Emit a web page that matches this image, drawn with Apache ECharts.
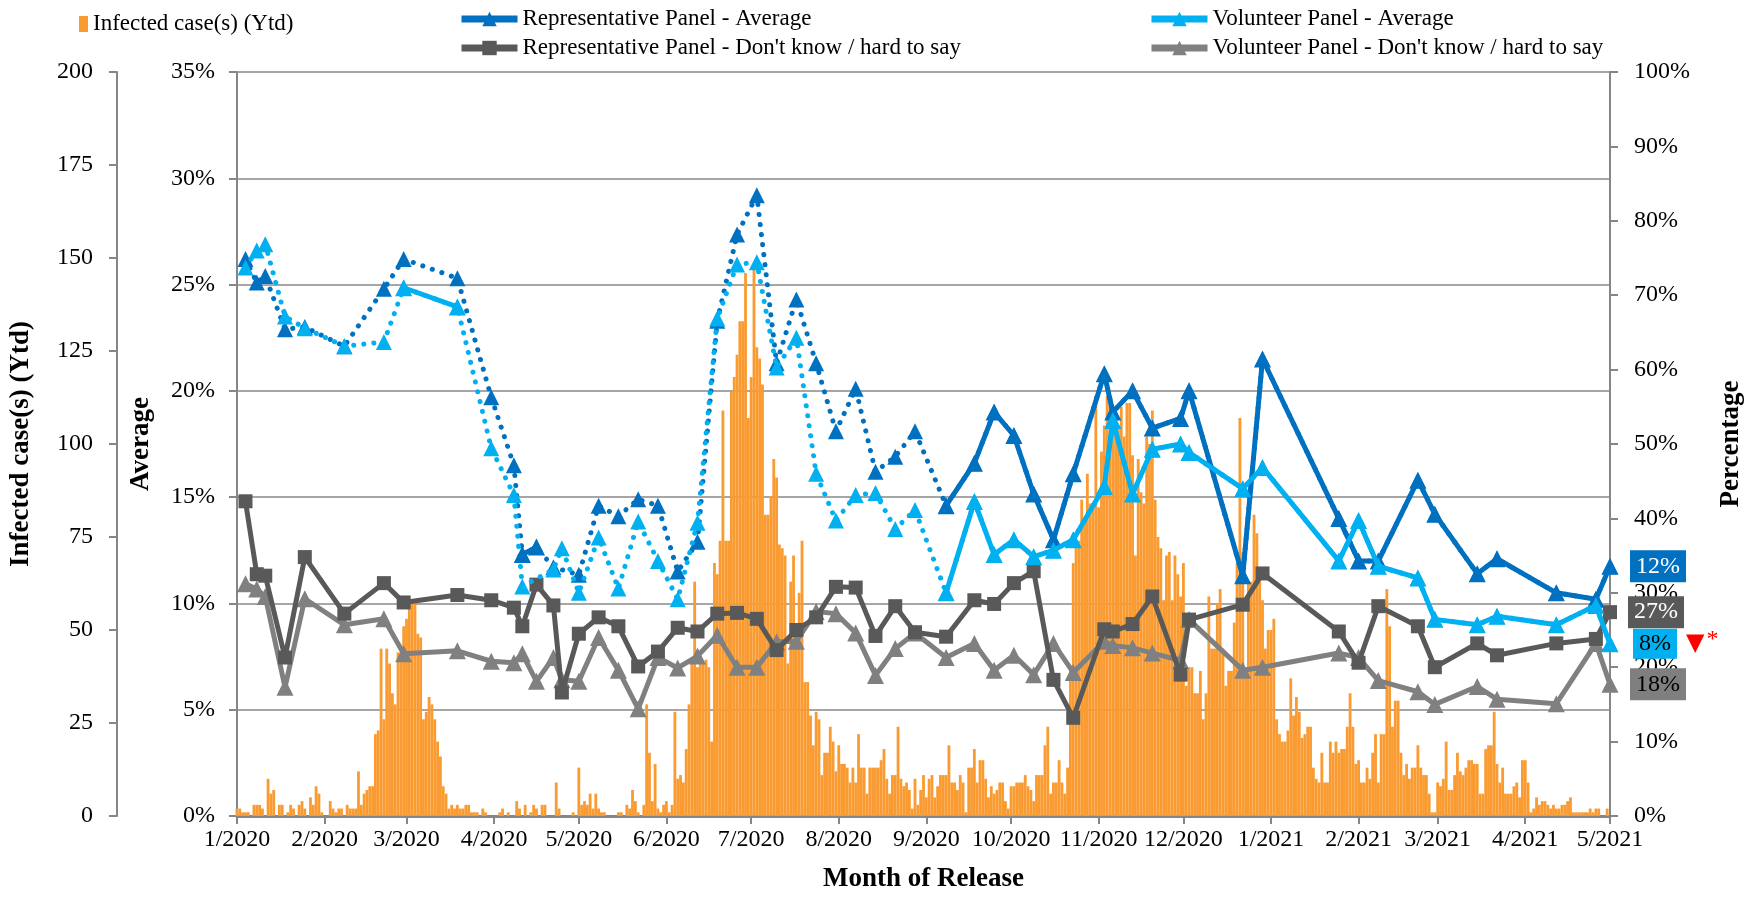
<!DOCTYPE html>
<html><head><meta charset="utf-8">
<script src="https://cdn.jsdelivr.net/npm/echarts@6/dist/echarts.min.js"></script>
<style>html,body{margin:0;padding:0;background:#fff}#c{width:1753px;height:898px}</style>
</head><body><div id="c"></div>
<script>
// ---------------- DATA ----------------
const startDate = '2020-01-01';
// daily infected cases (yesterday), one value per day from 2020-01-01 to 2021-05-01
const dailyCases = [
2,2,1,1,1,0,3,3,3,2, 0,10,6,7,0,3,3,0,1,3, 2,0,3,4,2,0,5,3,8,6, 1,0,0,4,2,1,2,2,0,3,
2,2,2,12,3,6,7,8,8,22, 23,45,26,45,41,33,30,44,44,51, 53,57,57,57,49,48,26,28,32,30, 26,20,16,8,6,2,3,2,3,2,
2,3,3,1,1,1,0,2,1,0, 0,0,0,1,2,0,1,0,0,4, 2,0,3,0,1,3,2,0,3,3, 0,0,0,9,2,0,0,0,0,1,
0,13,3,4,3,6,2,6,2,1, 1,0,0,0,0,1,1,0,3,2, 7,4,1,0,3,30,17,4,14,2, 1,3,4,1,3,28,10,11,9,18,
30,41,63,40,41,41,42,40,20,68, 65,74,109,74,74,114,118,124,133,133, 146,107,118,148,126,123,116,81,81,86,
96,91,73,72,70,41,63,70,47,60, 74,36,36,27,19,28,26,11,17,17, 24,20,12,19,14,14,13,9,13,9,
22,13,13,6,13,13,13,13,15,18, 10,6,11,11,24,10,8,9,7,2, 10,3,7,
11,5,10,11,5,8,11,11,11,19, 9,9,7,11,9,1,13,13,18,9, 15,15,10,5,8,6,7,9,9,4,
2,8,8,9,9,9,11,8,7,4, 11,11,11,19,24,6,9,9,15,9, 6,13,40,68,74,74,85,80,92,84,
84,113,83,98,105,113,111,110,105,105, 110,102,111,111,97,70,96,87,84,102, 100,109,
85,75,72,58,70,71,58,70,65,59, 68,35,40,40,33,33,39,26,33,59, 45,45,57,61,45,35,39,39,52,68,
107,71,39,63,63,81,76,63,58,45, 50,50,53,26,22,20,20,23,37,27, 32,28,21,22,24,24,13,10,9,17,
9,9,20,17,20,17,18,18,24,33, 24,14,15,9,9,13,10,17,22,9, 22,
22,61,51,24,31,31,17,11,14,10, 13,13,19,13,11,11,6,1,1,9, 8,10,20,7,7,11,17,12,11,13,
15,15,14,14,6,6,18,19,19,28, 14,9,13,6,6,6,8,9,5,15, 15,9,1,2,5,3,4,4,3,2,
3,2,2,3,3,4,5,1,1,1, 1,1,1,2,1,2,2,0,0,2, 0
];
// survey release dates
const surveyDates = [
'2020-01-04','2020-01-08','2020-01-11','2020-01-18','2020-01-25','2020-02-08','2020-02-22','2020-02-29','2020-03-19',
'2020-03-31','2020-04-08','2020-04-11','2020-04-16','2020-04-22','2020-04-25',
'2020-05-01','2020-05-08','2020-05-15','2020-05-22','2020-05-29',
'2020-06-05','2020-06-12','2020-06-19','2020-06-26','2020-07-03',
'2020-07-10','2020-07-17','2020-07-24','2020-07-31','2020-08-07',
'2020-08-14','2020-08-21','2020-08-28','2020-09-08',
'2020-09-18','2020-09-25','2020-10-02','2020-10-09','2020-10-16','2020-10-23',
'2020-11-03','2020-11-06','2020-11-13','2020-11-20',
'2020-11-30','2020-12-03','2020-12-22','2020-12-29',
'2021-01-25','2021-02-01','2021-02-08',
'2021-02-22','2021-02-28','2021-03-15','2021-03-22',
'2021-04-12','2021-04-26','2021-05-01'
];
// Average (%)
const repAvg = [26.2,25.1,25.4,22.9,23.0,22.1,24.8,26.2,25.3, 19.7,16.5,12.3,12.65,11.7,null, 11.35,14.6,14.1,14.9,14.6,
  11.5,12.9,23.3,27.35,29.2, 21.3,24.3,21.3,18.1,20.1, 16.2,16.9,18.1,14.6, 16.6,19.0,17.9,15.15,13.0,16.1,
  20.8,19.0,20.0,18.25, 18.7,20.0,11.3,21.5, 14.0,12.0,12.0, 15.8,14.2,11.4,12.1, 10.5,10.2,11.75];
const volAvg = [25.8,26.6,26.9,23.5,22.95,22.1,22.3,24.85,23.95, 17.3,15.1,10.8,null,11.6,12.6, 10.5,13.1,10.7,13.85,12.0,
  10.2,13.8,23.4,25.95,26.05, 21.1,22.5,16.1,13.9,15.1, 15.2,13.5,14.4,10.5, 14.8,12.3,13.0,12.2,12.5,13.0,
  15.5,18.6,15.15,17.25, 17.5,17.1,15.4,16.4, 12.0,13.9,11.75, 11.2,9.25,9.0,9.4, 9.0,9.9,8.1];
// Don't know / hard to say (%)
const repDK = [42.3,32.5,32.3,21.3,34.8,27.2,31.3,28.7,29.7, 29.0,28.0,25.5,31.1,28.3,16.6, 24.5,26.7,25.5,20.1,22.1,
  25.3,24.8,27.2,27.3,26.5, 22.3,25.0,26.7,30.8,30.7, 24.2,28.2,24.7,24.1, 29.0,28.5,31.3,32.9,18.3,13.2,
  25.1,24.8,25.8,29.5, 19.0,26.4,28.4,32.6, 24.8,20.6,28.2, 25.5,20.0,23.2,21.6, 23.2,23.8,27.4];
const volDK = [31.2,30.5,29.5,17.3,29.2,25.7,26.5,21.8,22.2, 20.8,20.6,21.8,18.1,21.3,18.3, 18.1,24.0,19.6,14.4,21.3,
  19.9,21.5,24.3,20.0,20.0, 23.4,23.5,27.5,27.2,24.6, 18.9,22.5,24.6,21.3, 23.2,19.6,21.6,19.0,23.2,19.3,
  23.5,22.9,22.6,21.9, 20.9,26.4,19.6,20.0, 21.9,21.3,18.2, 16.7,15.0,17.4,15.7, 15.1,23.2,17.7];
// periods drawn as continuous lines (the rest are dotted)
const repSolidSpans = [['2020-04-11','2020-04-16'], ['2020-09-08','2021-05-01']];
const volSolidSpans = [['2020-02-29','2020-03-19'], ['2020-09-08','2021-05-01']];
const axisTitles = { cases: 'Infected case(s) (Ytd)', avg: 'Average', pct: 'Percentage', x: 'Month of Release' };
const names = {
  bar: 'Infected case(s) (Ytd)',
  repAvg: 'Representative Panel - Average',
  volAvg: 'Volunteer Panel - Average',
  repDK: "Representative Panel - Don't know / hard to say",
  volDK: "Volunteer Panel - Don't know / hard to say"
};

// ---------------- BUILD ----------------
const DAY = 86400000;
const t0 = Date.parse(startDate + 'T00:00:00Z');
const idxOf = s => Math.round((Date.parse(s + 'T00:00:00Z') - t0) / DAY);
const categories = dailyCases.map((_, i) => new Date(t0 + i * DAY).toISOString().slice(0, 10));
const isMonthStart = (i, v) => v.slice(8, 10) === '01';
const pairs = arr => surveyDates.map((d, i) => [idxOf(d), arr[i] == null ? null : arr[i]]);
const inSpans = (d, spans) => spans.some(([a, b]) => d >= a && d <= b);
const solidPairs = (arr, spans) => surveyDates.map((d, i) => [idxOf(d), inSpans(d, spans) && arr[i] != null ? arr[i] : null]);

const FONT = 'Liberation Serif';
const AX = '#868686';
const C = { bar: '#FA9B32', rep: '#0070C0', vol: '#00B0F0', repDK: '#595959', volDK: '#808080' };
const dotted = { type: [0.1, 10], cap: 'round', width: 5 };
const lbl = { fontFamily: FONT, fontSize: 24, color: '#000' };
const nameTS = { fontFamily: FONT, fontSize: 27, fontWeight: 'bold', color: '#000' };
const legendText = { fontFamily: FONT, fontSize: 23, color: '#000', lineHeight: 26 };

const chart = echarts.init(document.getElementById('c'), null, { renderer: 'canvas' });
chart.setOption({
  animation: false,
  backgroundColor: '#fff',
  textStyle: { fontFamily: FONT },
  legend: [
    { data: [names.bar], left: 74, top: 6, icon: 'rect', itemWidth: 9, itemHeight: 16, textStyle: legendText },
    { data: [names.repAvg, names.repDK], orient: 'vertical', left: 453, top: 1, itemWidth: 56, itemHeight: 18, itemGap: 3,
      lineStyle: { width: 7 }, textStyle: legendText },
    { data: [names.volAvg, names.volDK], orient: 'vertical', left: 1143, top: 1, itemWidth: 56, itemHeight: 18, itemGap: 3,
      lineStyle: { width: 7 }, textStyle: legendText }
  ],
  grid: { left: 236, right: 143, top: 72, bottom: 78, containLabel: false },
  xAxis: {
    type: 'category', data: categories, boundaryGap: false,
    axisLine: { lineStyle: { color: AX, width: 3 } },
    axisTick: { interval: isMonthStart, length: 8, lineStyle: { color: AX, width: 2 } },
    axisLabel: Object.assign({}, lbl, {
      interval: isMonthStart, margin: 12,
      formatter: v => (+v.slice(5, 7)) + '/' + v.slice(0, 4)
    }),
    splitLine: { show: false },
    name: axisTitles.x, nameLocation: 'middle', nameGap: 50, nameTextStyle: nameTS
  },
  yAxis: [
    { type: 'value', position: 'left', min: 0, max: 35, interval: 5,
      axisLine: { show: true, lineStyle: { color: AX, width: 2 } },
      axisTick: { show: true, length: 8, lineStyle: { color: AX, width: 2 } },
      axisLabel: Object.assign({}, lbl, { formatter: '{value}%', margin: 22 }),
      splitLine: { show: true, lineStyle: { color: '#A6A6A6', width: 2 } },
      name: axisTitles.avg, nameLocation: 'middle', nameGap: 82, nameTextStyle: nameTS },
    { type: 'value', position: 'left', offset: 120, min: 0, max: 200, interval: 25,
      axisLine: { show: true, lineStyle: { color: AX, width: 2 } },
      axisTick: { show: true, length: 8, lineStyle: { color: AX, width: 2 } },
      axisLabel: Object.assign({}, lbl, { margin: 24 }),
      splitLine: { show: false },
      name: axisTitles.cases, nameLocation: 'middle', nameGap: 82, nameTextStyle: nameTS },
    { type: 'value', position: 'right', min: 0, max: 100, interval: 10,
      axisLine: { show: true, lineStyle: { color: AX, width: 2 } },
      axisTick: { show: true, length: 8, lineStyle: { color: AX, width: 2 } },
      axisLabel: Object.assign({}, lbl, { formatter: '{value}%', margin: 24 }),
      splitLine: { show: false },
      name: axisTitles.pct, nameLocation: 'middle', nameGap: 108, nameTextStyle: nameTS }
  ],
  series: [
    { name: names.bar, type: 'bar', xAxisIndex: 0, yAxisIndex: 1, data: dailyCases,
      barCategoryGap: '0%', itemStyle: { color: C.bar }, z: 1 },
    { name: names.volDK, type: 'line', yAxisIndex: 2, data: pairs(volDK), showAllSymbol: true,
      symbol: 'triangle', symbolSize: 17, itemStyle: { color: C.volDK },
      lineStyle: { color: C.volDK, width: 5 }, z: 3,
      endLabel: { show: true, distance: 20, formatter: p => Math.round(p.value[1]) + '%',
        backgroundColor: '#7F7F7F', color: '#000', fontFamily: FONT, fontSize: 24, lineHeight: 26, padding: [3, 6, 3, 6] } },
    { name: names.repDK, type: 'line', yAxisIndex: 2, data: pairs(repDK), showAllSymbol: true,
      symbol: 'rect', symbolSize: 14, itemStyle: { color: C.repDK },
      lineStyle: { color: C.repDK, width: 5 }, z: 4,
      endLabel: { show: true, distance: 18, formatter: p => Math.round(p.value[1]) + '%',
        backgroundColor: '#595959', color: '#fff', fontFamily: FONT, fontSize: 24, lineHeight: 26, padding: [3, 6, 3, 6] } },
    { name: 'repAvgDotted', type: 'line', yAxisIndex: 0, data: pairs(repAvg), connectNulls: true, showAllSymbol: true,
      symbol: 'triangle', symbolSize: 16, itemStyle: { color: C.rep },
      lineStyle: Object.assign({ color: C.rep }, dotted), z: 5 },
    { name: 'volAvgDotted', type: 'line', yAxisIndex: 0, data: pairs(volAvg), connectNulls: true, showAllSymbol: true,
      symbol: 'triangle', symbolSize: 16, itemStyle: { color: C.vol },
      lineStyle: Object.assign({ color: C.vol }, dotted), z: 6 },
    { name: names.repAvg, type: 'line', yAxisIndex: 0, data: solidPairs(repAvg, repSolidSpans), connectNulls: false, showAllSymbol: true,
      symbol: 'triangle', symbolSize: 17, itemStyle: { color: C.rep },
      lineStyle: { color: C.rep, width: 5 }, z: 7,
      endLabel: { show: true, distance: 20, formatter: p => Math.round(p.value[1]) + '%',
        backgroundColor: C.rep, color: '#fff', fontFamily: FONT, fontSize: 24, lineHeight: 26, padding: [3, 6, 3, 6] } },
    { name: names.volAvg, type: 'line', yAxisIndex: 0, data: solidPairs(volAvg, volSolidSpans), connectNulls: false, showAllSymbol: true,
      symbol: 'triangle', symbolSize: 17, itemStyle: { color: C.vol },
      lineStyle: { color: C.vol, width: 5 }, z: 8,
      endLabel: { show: true, distance: 23, formatter: p => '{b|' + Math.round(p.value[1]) + '%}{r|▼}{s|*}',
        rich: {
          b: { backgroundColor: C.vol, color: '#000', fontFamily: FONT, fontSize: 24, lineHeight: 26, padding: [3, 6, 3, 6] },
          r: { color: '#FF0000', fontFamily: 'DejaVu Sans', fontSize: 24, lineHeight: 26, padding: [0, 0, 0, 9] },
          s: { color: '#FF0000', fontFamily: FONT, fontSize: 24, lineHeight: 26, padding: [0, 0, 8, 2] }
        } } }
  ]
});
</script>
</body></html>
